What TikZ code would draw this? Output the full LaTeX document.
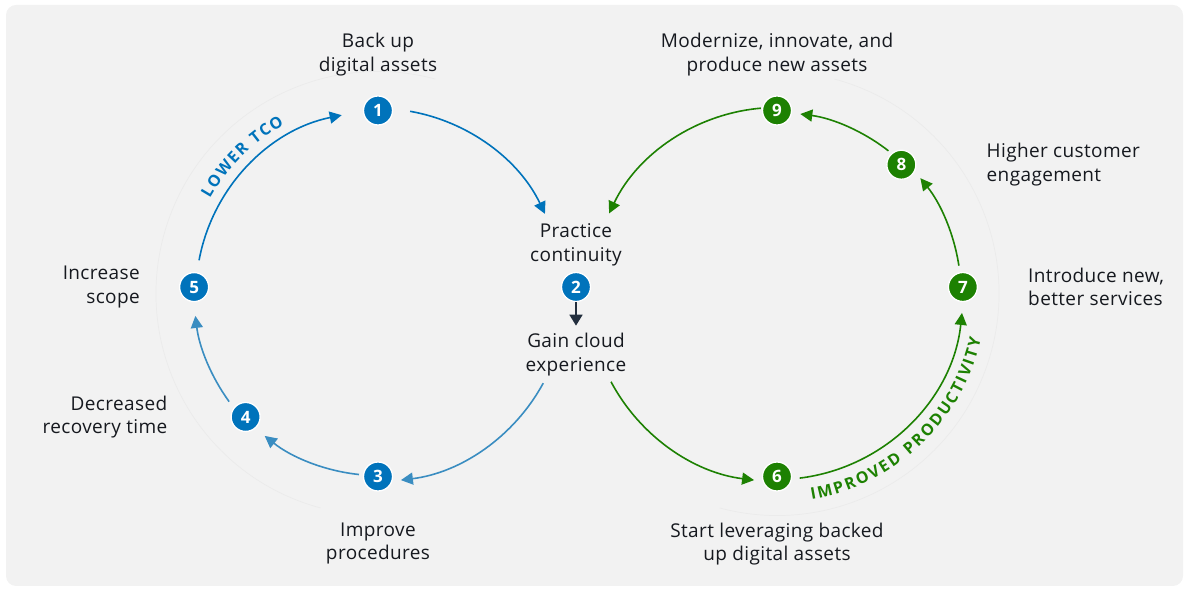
\documentclass[tikz,border=0pt]{standalone}
\usepackage{fontspec}
\setmainfont{Open Sans}[LetterSpace=2]
\usepackage{tikz}
\usetikzlibrary{arrows.meta,positioning,decorations.text}
\definecolor{awsblue}{HTML}{0073BB}
\definecolor{awsbluesoft}{HTML}{3A8DC1}
\definecolor{awsgreen}{HTML}{1D8102}
\definecolor{squidink}{HTML}{232F3E}
\definecolor{panelgray}{HTML}{F2F2F2}
\definecolor{inkblack}{HTML}{16191F}
\tikzset{
  stepdot/.style={circle,draw=white,line width=1.3pt,inner sep=0pt,minimum size=29pt,
    text=white,font=\fontsize{17}{17}\selectfont\bfseries},
  steptext/.style={inner sep=0pt,text=inkblack,font=\fontsize{19}{23.5}\selectfont},
  cyclearrow/.style={line width=1.6pt,-{Triangle[length=12pt,width=12pt]}},
}

\begin{document}
\begin{tikzpicture}[x=1pt,y=1pt]
  \useasboundingbox (0,0) rectangle (1186,589);
  \fill[panelgray,rounded corners=10pt] (6,3) rectangle (1183,584);

  % centres of the two loops
  \coordinate (L) at (378,295.5);
  \coordinate (R) at (777,295.5);

  % faint rings behind the loops
  \draw[black!8,line width=0.7pt] ([shift={(75:222pt)}]L) arc[start angle=75,end angle=255,radius=222pt];
  \draw[black!8,line width=0.7pt] ([shift={(-105:222pt)}]R) arc[start angle=-105,end angle=75,radius=222pt];

  % numbered steps
  \node[stepdot,fill=awsblue] (n1) at ([shift={(90:183pt)}]L) {1};
  \node[stepdot,fill=awsblue] (n2) at (576,302) {2};
  \node[stepdot,fill=awsblue] (n3) at ([shift={(270:183pt)}]L) {3};
  \node[stepdot,fill=awsblue] (n4) at ([shift={(223:181pt)}]L) {4};
  \node[stepdot,fill=awsblue] (n5) at ([shift={(178:184pt)}]L) {5};
  \node[stepdot,fill=awsgreen] (n6) at ([shift={(270:183pt)}]R) {6};
  \node[stepdot,fill=awsgreen] (n7) at ([shift={(2:186pt)}]R) {7};
  \node[stepdot,fill=awsgreen] (n8) at ([shift={(46:179pt)}]R) {8};
  \node[stepdot,fill=awsgreen] (n9) at ([shift={(90:183pt)}]R) {9};

  % step captions
  \node[steptext,align=center,above=19.5pt of n1] (back) {Back up\\digital assets};
  \node[steptext,align=center,above=6pt of n2] (practice) {Practice\\continuity};
  \node[steptext,align=center,below=31pt of n2] (gain) {Gain cloud\\experience};
  \node[steptext,align=center,below=31pt of n3] (improve) {Improve\\procedures};
  \node[steptext,align=right,left=63pt of n4] (recovery) {Decreased\\recovery time};
  \node[steptext,align=right,left=39pt of n5] (scope) {Increase\\scope};
  \node[steptext,align=center,below=31pt of n6] (leverage) {Start leveraging backed\\up digital assets};
  \node[steptext,align=left,right=50pt of n7] (services) {Introduce new,\\better services};
  \node[steptext,align=left,right=70pt of n8] (engage) {Higher customer\\engagement};
  \node[steptext,align=center,above=19.5pt of n9] (modern) {Modernize, innovate, and\\produce new assets};

  \draw[line width=1.8pt,squidink,-{Triangle[length=11pt,width=13pt]},shorten >=7.5pt] (n2) -- (gain);

  % arcs of the left loop
  \foreach \ta/\tb/\rr/\cc in {80/25.5/185/awsblue,-28.5/-83/188/awsbluesoft,
      264/231.5/182/awsbluesoft,216/187/184/awsbluesoft,169.5/101.5/182/awsblue}
    \draw[cyclearrow,\cc] ([shift={(\ta:\rr pt)}]L) arc[start angle=\ta,end angle=\tb,radius=\rr pt];
  % arcs of the right loop
  \foreach \ta/\tb/\rr in {95/154.5/186,208/263/188,-83/-6/186,8.7/38.8/184,52/82.6/181}
    \draw[cyclearrow,awsgreen] ([shift={(\ta:\rr pt)}]R) arc[start angle=\ta,end angle=\tb,radius=\rr pt];

  % curved loop titles
  \path[decorate,decoration={text along path,text align={fit to path},text color=awsblue,
      text={|\fontsize{16}{16}\selectfont\bfseries|LOWER TCO}}]
    ([shift={(150.5:193pt)}]L) arc[start angle=150.5,end angle=119,radius=193pt];
  \path[decorate,decoration={text along path,text align={fit to path},text color=awsgreen,
      text={|\fontsize{16}{16}\selectfont\bfseries|IMPROVED PRODUCTIVITY}}]
    ([shift={(-80.5:209pt)}]R) arc[start angle=-80.5,end angle=-12.5,radius=209pt];
\end{tikzpicture}
\end{document}
